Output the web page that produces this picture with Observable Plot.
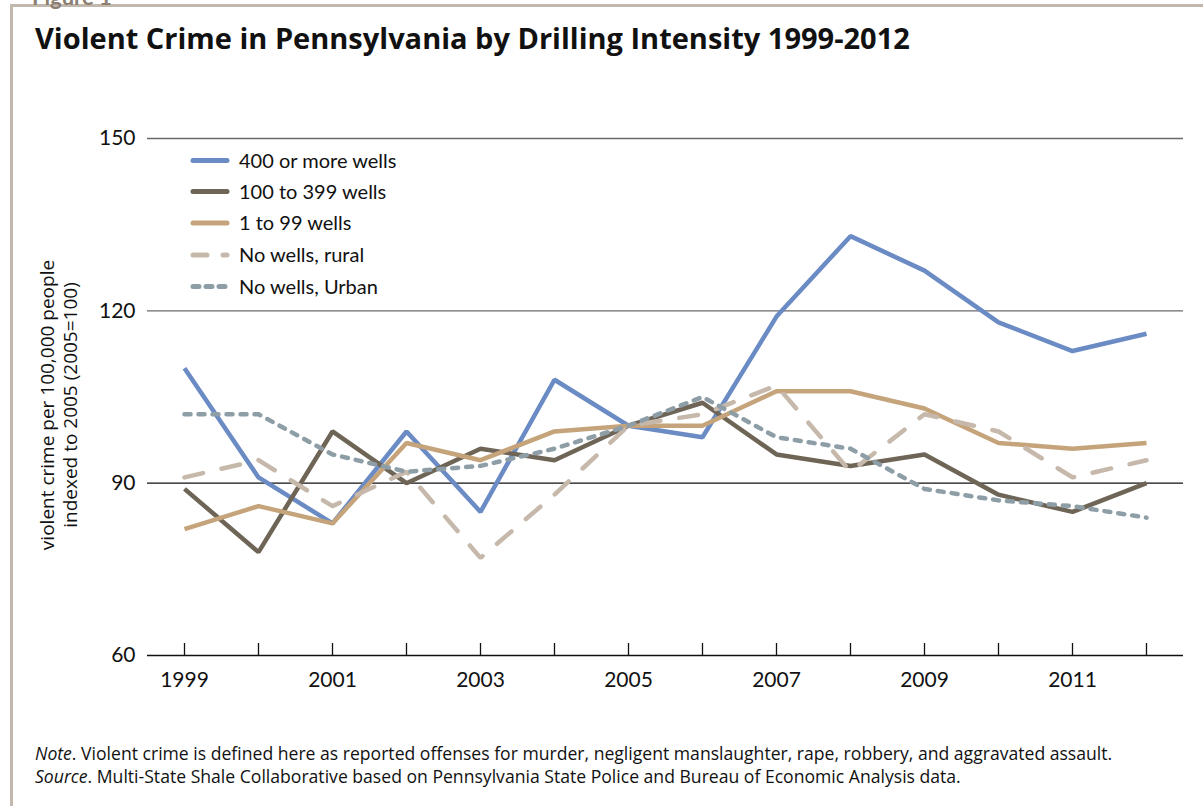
<!DOCTYPE html>
<html>
<head>
<meta charset="utf-8">
<script src="https://cdn.jsdelivr.net/npm/d3@7"></script>
<script src="https://cdn.jsdelivr.net/npm/@observablehq/plot@0.6"></script>
<style>
  html, body { margin: 0; padding: 0; background: #fff; }
  body { width: 1203px; height: 806px; position: relative; overflow: hidden; font-family: Lato, "Open Sans", sans-serif; color: #111; }
  #frame { position: absolute; left: 10px; top: 4px; width: 1300px; height: 900px; border-left: 3px solid #c2b8ad; border-top: 3px solid #c2b8ad; box-sizing: border-box; }
  #fig { position: absolute; left: 32px; top: -17px; font-size: 22px; font-weight: 700; color: #8b7f73; }
  #title { position: absolute; left: 35px; top: 21px; font-family: "Open Sans", sans-serif; font-size: 29px; font-weight: 700; line-height: 1.2; white-space: nowrap; }
  #chart { position: absolute; left: 0; top: 0; }
  #ylab { position: absolute; left: 59px; top: 405px; transform: translate(-50%, -50%) rotate(-90deg); font-family: "Open Sans", sans-serif; font-size: 19px; line-height: 23px; text-align: center; white-space: nowrap; }
  #legend { position: absolute; left: 0; top: 0; }
  #foot { position: absolute; left: 35px; top: 742px; font-family: "Open Sans", sans-serif; font-size: 17.6px; line-height: 22.5px; white-space: nowrap; }
</style>
</head>
<body>
<div id="frame"></div>
<div id="fig">Figure 1</div>
<div id="title">Violent Crime in Pennsylvania by Drilling Intensity 1999-2012</div>
<div id="chart"></div>
<div id="ylab">violent crime per 100,000 people<br>indexed to 2005 (2005=100)</div>
<div id="foot"><i>Note</i>. Violent crime is defined here as reported offenses for murder, negligent manslaughter, rape, robbery, and aggravated assault.<br><i>Source</i>. Multi-State Shale Collaborative based on Pennsylvania State Police and Bureau of Economic Analysis data.</div>
<script>
// ---- data ----
const years = [1999, 2000, 2001, 2002, 2003, 2004, 2005, 2006, 2007, 2008, 2009, 2010, 2011, 2012];
const wells400plus = [110, 91, 83, 99, 85, 108, 100, 98, 119, 133, 127, 118, 113, 116];
const wells100to399 = [89, 78, 99, 90, 96, 94, 100, 104, 95, 93, 95, 88, 85, 90];
const wells1to99 = [82, 86, 83, 97, 94, 99, 100, 100, 106, 106, 103, 97, 96, 97];
const noWellsRural = [91, 94, 86, 92, 77, 88, 100, 102, 107, 92, 102, 99, 91, 94];
const noWellsUrban = [102, 102, 95, 92, 93, 96, 100, 105, 98, 96, 89, 87, 86, 84];
const seriesNames = ["400 or more wells", "100 to 399 wells", "1 to 99 wells", "No wells, rural", "No wells, Urban"];
const seriesValues = [wells400plus, wells100to399, wells1to99, noWellsRural, noWellsUrban];
const yTicks = [60, 90, 120, 150];
const xLabelYears = [1999, 2001, 2003, 2005, 2007, 2009, 2011];

// ---- styles ----
const colors = ["#6b8bc4", "#6e6557", "#c5a47c", "#c6b9ab", "#8e9ea7"];
const dashes = [null, null, null, "19,19", "6,8"];
const widths = [4.5, 4.5, 4.5, 4.5, 4.5];

const rows = [];
seriesNames.forEach((name, s) => years.forEach((yr, i) => rows.push({series: name, year: yr, value: seriesValues[s][i]})));

const lineMarks = seriesNames.map((name, s) =>
  Plot.line(rows.filter(d => d.series === name), {
    x: "year", y: "value", stroke: colors[s], strokeWidth: widths[s],
    strokeDasharray: dashes[s], strokeLinecap: dashes[s] ? "round" : "butt", strokeLinejoin: "miter"
  })
);

const chart = Plot.plot({
  width: 1203,
  height: 700,
  marginLeft: 147,
  marginRight: 20,
  marginTop: 138,
  marginBottom: 45,
  style: {fontFamily: "Lato, 'Open Sans', sans-serif", fontSize: "21px", color: "#111", background: "transparent"},
  x: {type: "linear", domain: [1998.5, 2012.5]},
  y: {domain: [60, 150]},
  marks: [
    Plot.ruleY([150, 120], {stroke: "#6a6a6a", strokeWidth: 1.3}),
    Plot.ruleY([90], {stroke: "#111", strokeWidth: 1.1}),
    Plot.axisY({ticks: yTicks, tickSize: 0, tickPadding: 12, label: null, fontSize: 21}),
    Plot.axisX({ticks: years, tickSize: 12, dy: -12, fill: "none", label: null, stroke: "#111", strokeWidth: 1.3}),
    Plot.axisX({ticks: xLabelYears, tickSize: 0, tickPadding: 17, tickFormat: d => String(d), label: null, fontSize: 21}),
    ...lineMarks,
    Plot.ruleY([60], {stroke: "#111", strokeWidth: 1.6})
  ]
});
document.getElementById("chart").appendChild(chart);

// ---- legend (HTML overlay SVG) ----
const legendRowsY = [160.5, 191.5, 223, 255, 286.5];
const legendDash = [null, null, null, "14,16", "6,7"];
const lg = d3.select("body").append("svg").attr("id", "legend").attr("width", 600).attr("height", 320);
seriesNames.forEach((name, s) => {
  const g = lg.append("g").attr("transform", `translate(0,${legendRowsY[s]})`);
  g.append("line").attr("x1", 193).attr("x2", 227).attr("y1", 0).attr("y2", 0)
    .attr("stroke", colors[s]).attr("stroke-width", 5).attr("stroke-linecap", "round")
    .attr("stroke-dasharray", legendDash[s]);
  g.append("text").attr("x", 239).attr("y", 0).attr("dy", "0.35em")
    .attr("font-family", "Lato, 'Open Sans', sans-serif").attr("font-size", 20).attr("fill", "#111").text(name);
});
</script>
</body>
</html>
